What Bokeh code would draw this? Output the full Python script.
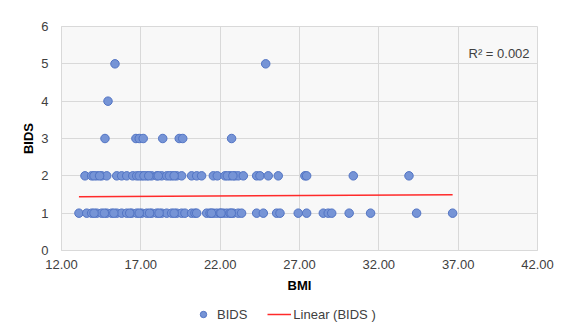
from bokeh.plotting import figure
from bokeh.layouts import column
from bokeh.models import (ColumnDataSource, FixedTicker, NumeralTickFormatter,
                          Legend, LegendItem, Label)
from bokeh.embed import file_html
from bokeh.resources import INLINE

# ---- data ----
bmi_bids1 = [13.10, 13.59, 13.90, 14.22, 14.53, 14.85, 15.16, 15.48, 15.79, 16.11,
             16.42, 16.74, 17.05, 17.37, 17.68, 18.00, 18.31, 18.63, 18.94, 19.26,
             19.57, 19.78, 20.20, 20.41, 20.52, 21.15, 21.36, 21.57, 21.78, 21.99,
             22.20, 22.41, 22.62, 22.83, 23.14, 23.35, 24.30, 24.72, 25.56, 25.77,
             26.92, 27.45, 28.50, 28.81, 29.03, 30.13, 31.48, 34.38, 36.65,
             14.05, 14.70, 15.30, 16.30, 16.90, 17.55, 18.15, 19.10, 21.45, 22.05, 22.70]
bmi_bids2 = [13.48, 13.90, 14.22, 14.53, 14.85, 15.48, 15.79, 16.11, 16.49, 16.74,
             17.05, 17.37, 17.68, 18.00, 18.31, 18.63, 18.94, 19.26, 19.57, 20.20,
             20.52, 20.83, 21.57, 21.82, 22.30, 22.62, 22.93, 23.14, 23.46, 24.30,
             24.51, 25.03, 25.66, 27.34, 27.45, 30.39, 33.90,
             14.05, 14.40, 16.90, 17.20, 17.50, 18.10, 18.80, 19.10, 22.45, 22.80]
bmi_bids3 = [14.74, 16.69, 16.90, 17.15, 18.38, 19.42, 19.64, 22.72]
bmi_bids4 = [14.93]
bmi_bids5 = [15.37, 24.87]

bmi = bmi_bids1 + bmi_bids2 + bmi_bids3 + bmi_bids4 + bmi_bids5
bids = ([1] * len(bmi_bids1) + [2] * len(bmi_bids2) + [3] * len(bmi_bids3)
        + [4] * len(bmi_bids4) + [5] * len(bmi_bids5))

trend_x = [13.10, 36.65]
trend_y = [1.44, 1.49]

x_ticks = [12, 17, 22, 27, 32, 37, 42]
y_ticks = [0, 1, 2, 3, 4, 5, 6]
r2_text = "R² = 0.002"
legend_labels = ["BIDS", "Linear (BIDS )"]

FONT = "Liberation Sans"
TXT = "#404040"
PT_FILL = "#7694d6"
PT_LINE = "#5274c4"
TREND = "#ff2a2a"

p = figure(width=563, height=300, output_backend="svg", toolbar_location=None,
           x_range=(12, 42), y_range=(0, 6),
           min_border_left=61, min_border_right=26, min_border_top=26,
           min_border_bottom=50)

p.background_fill_color = "#f8f8f8"
p.border_fill_color = "white"
p.outline_line_color = "#d9d9d9"

src = ColumnDataSource(dict(x=bmi, y=bids))
pts = p.scatter("x", "y", source=src, size=8.5, marker="circle",
                fill_color=PT_FILL, line_color=PT_LINE, line_width=1)
ln = p.line(trend_x, trend_y, line_color=TREND, line_width=1.5)

for ax in (p.xaxis[0], p.yaxis[0]):
    ax.axis_line_color = "#d9d9d9"
    ax.major_tick_line_color = None
    ax.minor_tick_line_color = None
    ax.major_label_text_font = FONT
    ax.major_label_text_font_size = "13px"
    ax.major_label_text_color = TXT
    ax.axis_label_text_font = FONT
    ax.axis_label_text_font_size = "13px"
    ax.axis_label_text_font_style = "bold"
    ax.axis_label_text_color = "#000000"

p.xaxis.ticker = FixedTicker(ticks=x_ticks)
p.xaxis.formatter = NumeralTickFormatter(format="0.00")
p.xaxis.axis_label = "BMI"
p.xaxis.major_label_standoff = 3
p.xaxis.axis_label_standoff = 6

p.yaxis.ticker = FixedTicker(ticks=y_ticks)
p.yaxis.axis_label = "BIDS"
p.yaxis.major_label_standoff = 7
p.yaxis.axis_label_standoff = 2

p.xgrid.ticker = FixedTicker(ticks=x_ticks)
p.ygrid.ticker = FixedTicker(ticks=y_ticks)
p.xgrid.grid_line_color = "#d9d9d9"
p.ygrid.grid_line_color = "#d9d9d9"

p.add_layout(Label(x=41.5, y=5.28, text=r2_text, text_align="right",
                   text_baseline="middle", text_font=FONT,
                   text_font_size="13px", text_color=TXT))

# ---- legend strip below the chart (its ranges keep the data out of view) ----
lg = figure(width=563, height=22, output_backend="svg", toolbar_location=None,
            x_axis_type=None, y_axis_type=None, x_range=(0, 1), y_range=(0, 1),
            min_border=0, min_border_left=0, min_border_right=0,
            min_border_top=0, min_border_bottom=0)
lg.outline_line_color = None
lg.background_fill_color = "white"
lg.border_fill_color = "white"
lg.xgrid.visible = False
lg.ygrid.visible = False
lpts = lg.scatter("x", "y", source=src, size=8.5, marker="circle",
                  fill_color=PT_FILL, line_color=PT_LINE, line_width=1)
lln = lg.line(trend_x, trend_y, line_color=TREND, line_width=1.5)

legend = Legend(items=[LegendItem(label=legend_labels[0], renderers=[lpts]),
                       LegendItem(label=legend_labels[1], renderers=[lln])],
                orientation="horizontal", location=(130, 0),
                border_line_color=None, background_fill_alpha=0,
                label_text_font=FONT, label_text_font_size="13px",
                label_text_color=TXT, padding=0, margin=0, spacing=20,
                glyph_width=24, glyph_height=16, label_height=16,
                label_standoff=2)
lg.add_layout(legend, "center")

open("out.html", "w").write(file_html(column(p, lg, spacing=0), INLINE))
